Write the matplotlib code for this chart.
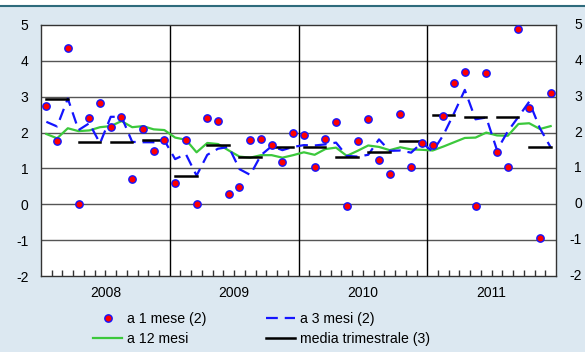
import numpy as np
import matplotlib
matplotlib.use("Agg")
import matplotlib.pyplot as plt
from matplotlib.lines import Line2D
from matplotlib.patches import Rectangle

plt.rcParams['font.family'] = ['Liberation Sans', 'DejaVu Sans']
plt.rcParams['lines.scale_dashes'] = False

# Dati mensili gen 2008 - dic 2011
anni = ['2008', '2009', '2010', '2011']

a1mese = [2.74, 1.77, 4.35, 0.01, 2.42, 2.83, 2.15, 2.43, 0.70, 2.09, 1.49, 1.79,
          0.60, 1.79, 0.00, 2.42, 2.32, 0.29, 0.47, 1.78, 1.81, 1.65, 1.17, 1.99,
          1.92, 1.04, 1.82, 2.30, -0.04, 1.76, 2.39, 1.24, 0.85, 2.51, 1.04, 1.72,
          1.65, 2.47, 3.38, 3.68, -0.04, 3.66, 1.45, 1.04, 4.88, 2.68, -0.93, 3.09]

a3mesi = [2.30, 2.17, 2.95, 2.07, 2.26, 1.70, 2.44, 2.44, 1.74, 1.73, 1.73, 1.78,
          1.26, 1.40, 0.80, 1.38, 1.55, 1.60, 0.98, 0.82, 1.37, 1.62, 1.51, 1.60,
          1.65, 1.64, 1.67, 1.72, 1.35, 1.33, 1.38, 1.81, 1.49, 1.50, 1.44, 1.72,
          1.47, 1.93, 2.54, 3.19, 2.37, 2.42, 1.51, 2.03, 2.44, 2.86, 2.12, 1.59]

a12mesi = [1.96, 1.84, 2.12, 2.04, 2.06, 2.15, 2.18, 2.32, 2.15, 2.18, 2.09, 2.07,
           1.86, 1.80, 1.45, 1.71, 1.68, 1.50, 1.33, 1.30, 1.37, 1.37, 1.30, 1.37,
           1.45, 1.38, 1.54, 1.58, 1.35, 1.49, 1.64, 1.60, 1.51, 1.59, 1.53, 1.52,
           1.50, 1.61, 1.73, 1.85, 1.86, 2.00, 1.92, 1.91, 2.24, 2.26, 2.10, 2.18]

media_trim = [2.94, 1.75, 1.75, 1.79,
              0.79, 1.65, 1.33, 1.60,
              1.60, 1.33, 1.47, 1.76,
              2.50, 2.43, 2.44, 1.61]

yvals = list(range(-2, 6))

sfondo = '#dce8f1'
blu = '#1414ff'
verde = '#3cc83c'
fs = 10

fig = plt.figure(figsize=(5.85, 3.52), dpi=100, facecolor=sfondo)
fig.patches.append(Rectangle((0, 1 - 5 / 352), 1, 5 / 352, transform=fig.transFigure,
                             facecolor='white', edgecolor='none', zorder=0))
fig.lines.append(Line2D([0, 1], [1 - 5.5 / 352] * 2, transform=fig.transFigure,
                        color='#2e6b7c', lw=1.5))

ax = fig.add_axes([41 / 585, 1 - 276 / 352, 515 / 585, 251 / 352])
ax.set_facecolor('white')

x = np.arange(len(a1mese)) + 0.5

ax.plot(x, a12mesi, color=verde, lw=1.6, zorder=3)
ax.plot(x, a3mesi, color=blu, lw=1.6, dashes=(8.5, 5), zorder=4)
for q, v in enumerate(media_trim):
    ax.plot([q * 3 + 0.5, q * 3 + 2.5], [v, v], color='black', lw=1.8, zorder=5)
ax.plot(x, a1mese, ls='none', marker='o', ms=5.3, mfc='red', mec=blu, mew=1, zorder=6)

ax.set_xlim(0, 48)
ax.set_ylim(-2, 5)

# griglia
for yv in range(-1, 5):
    ax.axhline(yv, color='#555555', lw=1, zorder=1)
for xv in (12, 24, 36):
    ax.axvline(xv, color='black', lw=1, zorder=1)

for s in ax.spines.values():
    s.set_color('#333333')
    s.set_linewidth(1)

ax.set_yticks(yvals)
ax.set_yticklabels([str(v) for v in yvals])
ax.tick_params(axis='y', length=0, labelsize=fs, pad=9)

# etichette asse destro, allineate a destra
for v in yvals:
    ax.text(1 + 26 / 515, v, str(v), transform=ax.get_yaxis_transform(),
            ha='right', va='center', fontsize=fs)

ax.set_xticks([6, 18, 30, 42])
ax.set_xticklabels(anni)
ax.set_xticks([m for m in range(1, 48) if m % 12 != 0 and m % 12 != 6], minor=True)
ax.tick_params(axis='x', which='both', direction='in', length=4, width=1,
               color='#333333', labelsize=fs, pad=7)

handles = [
    Line2D([], [], ls='none', marker='o', ms=5.3, mfc='red', mec=blu, mew=1),
    Line2D([], [], color=verde, lw=1.6),
    Line2D([], [], color=blu, lw=1.6, dashes=(8.5, 5)),
    Line2D([], [], color='black', lw=1.8),
]
labels = ['a 1 mese (2)', 'a 12 mesi', 'a 3 mesi (2)', 'media trimestrale (3)']
fig.legend(handles, labels, ncol=2, loc='upper left', bbox_to_anchor=(93 / 585, 1 - 312 / 352),
           frameon=False, fontsize=10.2, handlelength=2.05, handletextpad=0.35,
           columnspacing=4.2, labelspacing=0.45, borderpad=0, borderaxespad=0)

fig.savefig('out.png', dpi=100, facecolor=sfondo)
